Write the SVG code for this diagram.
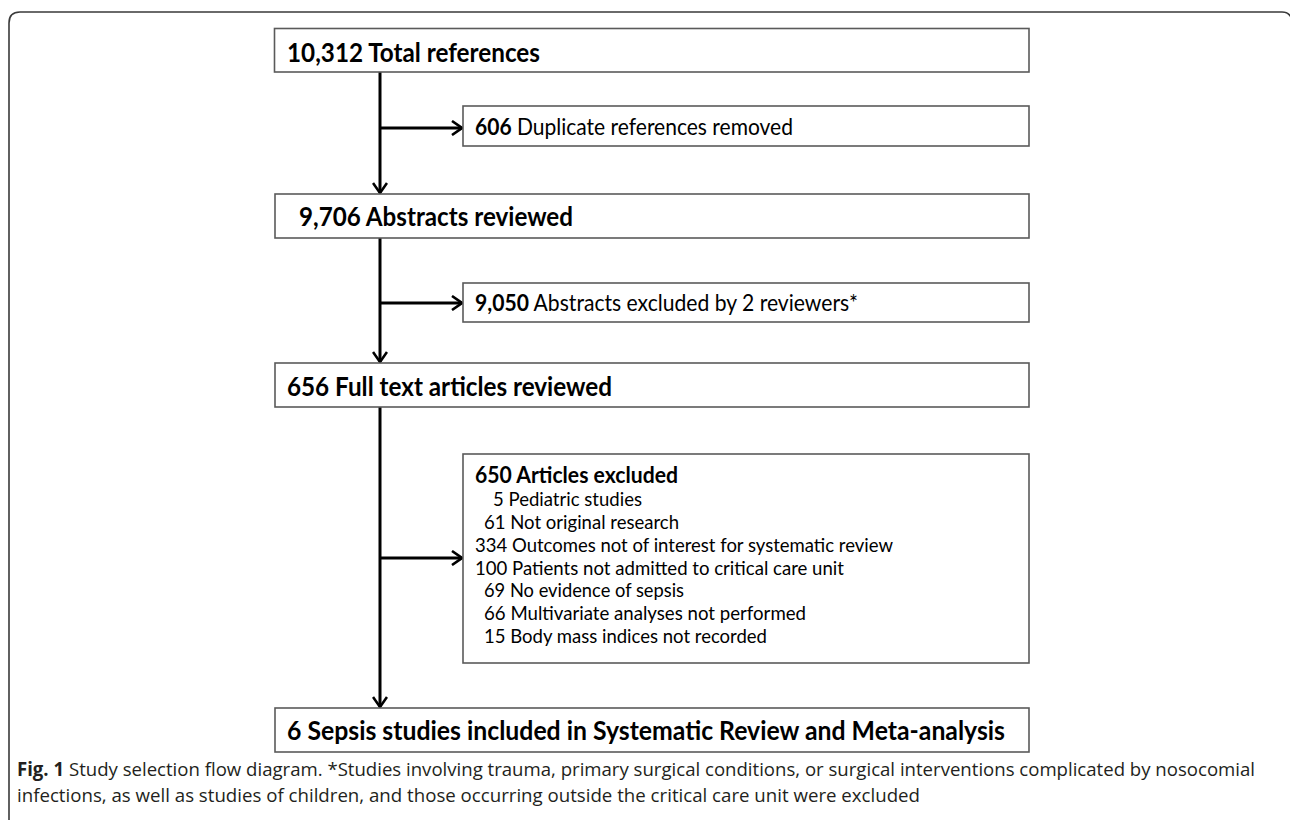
<svg xmlns="http://www.w3.org/2000/svg" width="1290" height="820" viewBox="0 0 1290 820">
<style>
  .box { fill: #ffffff; stroke: #5a5a5a; stroke-width: 1.6; }
  .t { font-family: Lato, "Liberation Sans", sans-serif; fill: #000000; }
  .big { font-size: 26px; font-weight: bold; }
  .mid { font-size: 23px; }
  .sm { font-size: 20px; }
  .b { font-weight: bold; }
  .conn { fill: none; stroke: #000000; stroke-width: 3; }
  .cap { font-family: "Open Sans", "Noto Sans", sans-serif; font-size: 19px; fill: #231f20; }
</style>
<defs>
  <marker id="arr" viewBox="0 0 12 16" refX="11" refY="8" markerWidth="12" markerHeight="16" markerUnits="userSpaceOnUse" orient="auto">
    <path d="M1,1 L11,8 L1,15" fill="none" stroke="#000000" stroke-width="2.6"/>
  </marker>
</defs>
<rect x="0" y="0" width="1290" height="820" fill="#ffffff"/>
<path d="M9,820 V23 Q9,12 20,12 H1282 Q1290,12 1292,20" fill="none" stroke="#3a3a3a" stroke-width="1.6"/>

<g id="connectors">
  <line class="conn" x1="380" y1="72" x2="380" y2="193" marker-end="url(#arr)"/>
  <line class="conn" x1="380" y1="128" x2="462" y2="128" marker-end="url(#arr)"/>
  <line class="conn" x1="380" y1="238" x2="380" y2="362" marker-end="url(#arr)"/>
  <line class="conn" x1="380" y1="303" x2="462" y2="303" marker-end="url(#arr)"/>
  <line class="conn" x1="380" y1="407" x2="380" y2="707" marker-end="url(#arr)"/>
  <line class="conn" x1="380" y1="558" x2="462" y2="558" marker-end="url(#arr)"/>
</g>

<g id="n1">
  <rect class="box" x="274.5" y="28.5" width="754.5" height="43.5"/>
  <text class="t big" x="287" y="62" textLength="253" lengthAdjust="spacingAndGlyphs">10,312 Total references</text>
</g>
<g id="n2">
  <rect class="box" x="463" y="106" width="566" height="40"/>
  <text class="t mid" x="475" y="135" textLength="318" lengthAdjust="spacingAndGlyphs"><tspan class="b">606</tspan> Duplicate references removed</text>
</g>
<g id="n3">
  <rect class="box" x="275" y="194" width="754" height="44"/>
  <text class="t big" x="299" y="226" textLength="274" lengthAdjust="spacingAndGlyphs">9,706 Abstracts reviewed</text>
</g>
<g id="n4">
  <rect class="box" x="463" y="283" width="566" height="39"/>
  <text class="t mid" x="475" y="311" textLength="383" lengthAdjust="spacingAndGlyphs"><tspan class="b">9,050</tspan> Abstracts excluded by 2 reviewers*</text>
</g>
<g id="n5">
  <rect class="box" x="275" y="363" width="754" height="44"/>
  <text class="t big" x="287" y="396" textLength="325" lengthAdjust="spacingAndGlyphs">656 Full text articles reviewed</text>
</g>
<g id="n6">
  <rect class="box" x="463" y="454" width="566" height="209"/>
  <text class="t mid b" x="475" y="483" textLength="203" lengthAdjust="spacingAndGlyphs">650 Articles excluded</text>
  <text class="t sm" x="493" y="506" textLength="149" lengthAdjust="spacingAndGlyphs">5 Pediatric studies</text>
  <text class="t sm" x="484" y="529" textLength="195" lengthAdjust="spacingAndGlyphs">61 Not original research</text>
  <text class="t sm" x="475" y="552" textLength="418" lengthAdjust="spacingAndGlyphs">334 Outcomes not of interest for systematic review</text>
  <text class="t sm" x="475" y="575" textLength="369" lengthAdjust="spacingAndGlyphs">100 Patients not admitted to critical care unit</text>
  <text class="t sm" x="484" y="597" textLength="200" lengthAdjust="spacingAndGlyphs">69 No evidence of sepsis</text>
  <text class="t sm" x="484" y="620" textLength="322" lengthAdjust="spacingAndGlyphs">66 Multivariate analyses not performed</text>
  <text class="t sm" x="484" y="643" textLength="283" lengthAdjust="spacingAndGlyphs">15 Body mass indices not recorded</text>
</g>
<g id="n7">
  <rect class="box" x="275" y="708" width="754" height="44"/>
  <text class="t big" x="287" y="740" textLength="718" lengthAdjust="spacingAndGlyphs">6 Sepsis studies included in Systematic Review and Meta-analysis</text>
</g>

<g id="caption">
  <text class="cap" x="17" y="776" textLength="1238" lengthAdjust="spacingAndGlyphs"><tspan font-weight="bold">Fig. 1</tspan> Study selection flow diagram. *Studies involving trauma, primary surgical conditions, or surgical interventions complicated by nosocomial</text>
  <text class="cap" x="17" y="802" textLength="903" lengthAdjust="spacingAndGlyphs">infections, as well as studies of children, and those occurring outside the critical care unit were excluded</text>
</g>
</svg>
